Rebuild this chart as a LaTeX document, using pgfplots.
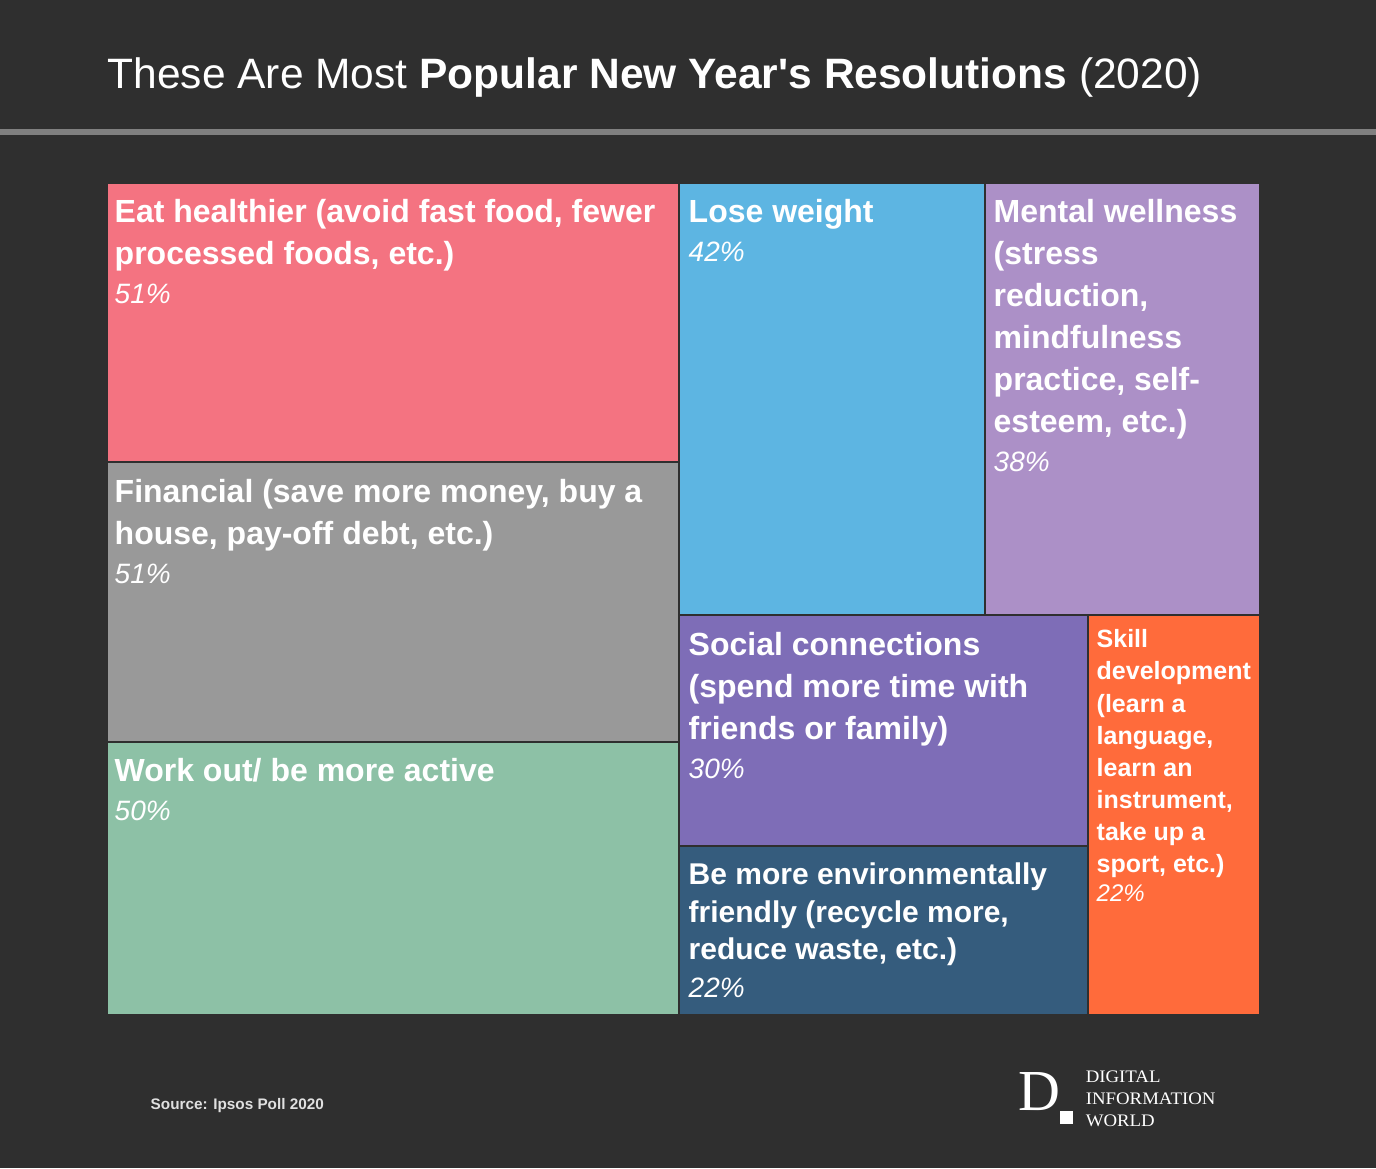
\documentclass[border=0pt]{standalone}
\usepackage{pgfplots}
\pgfplotsset{compat=1.18}
\usepackage{fontspec}
\setmainfont{Liberation Sans}
\newfontfamily\seriffont{Liberation Serif}
\definecolor{bg}{HTML}{2F2F2F}
\definecolor{rule}{HTML}{808080}
\definecolor{cPink}{HTML}{F47381}
\definecolor{cGray}{HTML}{999999}
\definecolor{cGreen}{HTML}{8DC1A6}
\definecolor{cBlue}{HTML}{5DB5E2}
\definecolor{cLilac}{HTML}{AC90C7}
\definecolor{cPurple}{HTML}{7E6DB7}
\definecolor{cNavy}{HTML}{355C7D}
\definecolor{cOrange}{HTML}{FF6B3B}
\newcommand\fpx[1]{\fontsize{\fpeval{#1*0.28453}pt}{\fpeval{#1*0.28453*1.2}pt}\selectfont}
\newcommand\lab[4]{\node[anchor=base west, inner sep=0pt, text=white, font={\fpx{#3}\bfseries}] at (axis cs:#1,#2) {#4};}
\newcommand\pct[4]{\node[anchor=base west, inner sep=0pt, text=white, font={\fpx{#3}\itshape}] at (axis cs:#1,#2) {#4};}
\newcommand\logo[2]{\node[anchor=base west, inner sep=0pt, xscale=1.07, text=white, font={\seriffont\fpx{17.6}}] at (axis cs:1085,#1) {#2};}
\begin{document}
\begin{tikzpicture}
\begin{axis}[scale only axis, width=13.76cm, height=11.68cm,
  xmin=0, xmax=1376, ymin=0, ymax=1168, y dir=reverse,
  axis lines=none, ticks=none, clip=false]
% background and rule
\addplot[fill=bg, draw=none] coordinates {(0,0) (1376,0) (1376,1168) (0,1168)} -- cycle;
\addplot[fill=rule, draw=none] coordinates {(0,129) (1376,129) (1376,135) (0,135)} -- cycle;
% treemap tiles
\addplot[fill=cPink, draw=bg, line width=0.4pt] coordinates {(107,183) (679,183) (679,462) (107,462)} -- cycle;
\addplot[fill=cGray, draw=bg, line width=0.4pt] coordinates {(107,462) (679,462) (679,742) (107,742)} -- cycle;
\addplot[fill=cGreen, draw=bg, line width=0.4pt] coordinates {(107,742) (679,742) (679,1015) (107,1015)} -- cycle;
\addplot[fill=cBlue, draw=bg, line width=0.4pt] coordinates {(679,183) (985,183) (985,615) (679,615)} -- cycle;
\addplot[fill=cLilac, draw=bg, line width=0.4pt] coordinates {(985,183) (1260,183) (1260,615) (985,615)} -- cycle;
\addplot[fill=cPurple, draw=bg, line width=0.4pt] coordinates {(679,615) (1088,615) (1088,846) (679,846)} -- cycle;
\addplot[fill=cNavy, draw=bg, line width=0.4pt] coordinates {(679,846) (1088,846) (1088,1015) (679,1015)} -- cycle;
\addplot[fill=cOrange, draw=bg, line width=0.4pt] coordinates {(1088,615) (1260,615) (1260,1015) (1088,1015)} -- cycle;
% title
\node[anchor=base west, inner sep=0pt, text=white, font=\fpx{42.5}] at (axis cs:107,88)
  {These Are Most \textbf{Popular New Year\textquotesingle s Resolutions} (2020)};
% labels
\lab{114}{222}{32}{Eat healthier (avoid fast food, fewer}
\lab{114}{264}{32}{processed foods, etc.)}
\pct{114}{303}{28}{51\%}
\lab{114}{502}{32}{Financial (save more money, buy a}
\lab{114}{544}{32}{house, pay-off debt, etc.)}
\pct{114}{583}{28}{51\%}
\lab{114}{781}{32}{Work out/ be more active}
\pct{114}{820}{28}{50\%}
\lab{688}{222}{32}{Lose weight}
\pct{688}{261}{28}{42\%}
\lab{993}{222}{32}{Mental wellness}
\lab{993}{264}{32}{(stress}
\lab{993}{306}{32}{reduction,}
\lab{993}{348}{32}{mindfulness}
\lab{993}{390}{32}{practice, self-}
\lab{993}{432}{32}{esteem, etc.)}
\pct{993}{471}{28}{38\%}
\lab{688}{655}{32}{Social connections}
\lab{688}{697}{32}{(spend more time with}
\lab{688}{739}{32}{friends or family)}
\pct{688}{778}{28}{30\%}
\lab{688}{884}{30}{Be more environmentally}
\lab{688}{922}{30}{friendly (recycle more,}
\lab{688}{959}{30}{reduce waste, etc.)}
\pct{688}{997}{28}{22\%}
\lab{1096}{647}{25}{Skill}
\lab{1096}{679}{25}{development}
\lab{1096}{712}{25}{(learn a}
\lab{1096}{744}{25}{language,}
\lab{1096}{776}{25}{learn an}
\lab{1096}{808}{25}{instrument,}
\lab{1096}{840}{25}{take up a}
\lab{1096}{872}{25}{sport, etc.)}
\pct{1096}{901}{24}{22\%}
% source
\node[anchor=base west, inner sep=0pt, text=white!85!bg, font={\fpx{15.3}\bfseries}] at (axis cs:150,1109) {Source: Ipsos Poll 2020};
% logo
\node[anchor=base west, inner sep=0pt, text=white, font={\seriffont\fpx{58}}] at (axis cs:1018,1110) {D};
\addplot[fill=white, draw=none] coordinates {(1060,1111) (1073,1111) (1073,1124) (1060,1124)} -- cycle;
\logo{1082}{DIGITAL}
\logo{1104}{INFORMATION}
\logo{1126}{WORLD}
\end{axis}
\end{tikzpicture}
\end{document}
